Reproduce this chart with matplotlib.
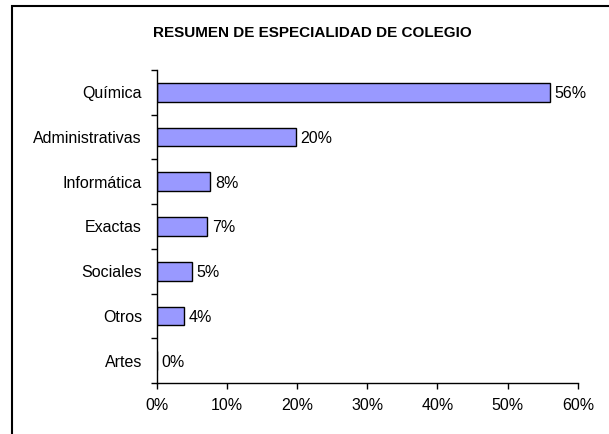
import matplotlib.pyplot as plt
from matplotlib.patches import Rectangle
from matplotlib.ticker import PercentFormatter
import numpy as np

plt.rcParams['font.family'] = ['Liberation Sans', 'DejaVu Sans']

categorias = ["Química", "Administrativas", "Informática", "Exactas", "Sociales", "Otros", "Artes"]
porcentajes = [56.0, 19.8, 7.6, 7.2, 5.0, 3.9, 0.0]
etiquetas = ["56%", "20%", "8%", "7%", "5%", "4%", "0%"]
xticks = [0, 10, 20, 30, 40, 50, 60]

fig = plt.figure(figsize=(6.09, 4.34), dpi=100)
ax = fig.add_axes([0.257, 0.1175, 0.692, 0.7215])

# marco exterior del grafico
fig.add_artist(Rectangle((0.019, -0.1), 1.0, 1.087, transform=fig.transFigure,
                         fill=False, edgecolor='black', linewidth=1.5))

y = np.arange(len(categorias))
ax.barh(y, porcentajes, height=0.42, color='#9999FF', edgecolor='black', linewidth=1.0)

for yi, v, lab in zip(y, porcentajes, etiquetas):
    ax.annotate(lab, (v, yi), xytext=(3.5, -1), textcoords='offset points',
                va='center', ha='left', fontsize=11.5)

ax.set_ylim(len(categorias) - 0.5, -0.5)
ax.set_xlim(0, 60)
ax.set_yticks(y)
ax.set_yticklabels(categorias, fontsize=11.5)
ax.set_yticks(np.arange(-0.5, len(categorias)), minor=True)
ax.tick_params(axis='y', which='major', length=0, pad=10.5)
ax.tick_params(axis='y', which='minor', length=4, width=1, direction='out')
ax.set_xticks(xticks)
ax.xaxis.set_major_formatter(PercentFormatter(decimals=0))
ax.tick_params(axis='x', length=4, width=1, direction='out', labelsize=11.5, pad=7)

for s in ['top', 'right']:
    ax.spines[s].set_visible(False)
ax.spines['left'].set_linewidth(1.0)
ax.spines['bottom'].set_linewidth(1.0)

fig.text(0.513, 0.9154, "RESUMEN DE ESPECIALIDAD DE COLEGIO", ha='center', va='baseline',
         fontsize=11, fontweight='bold')

fig.savefig("out.png", dpi=100)
